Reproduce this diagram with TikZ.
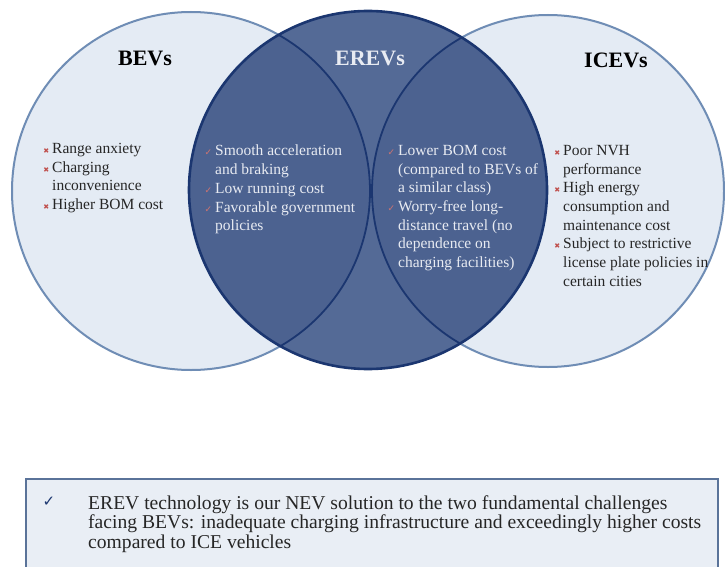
\documentclass[tikz,border=0pt]{standalone}
\usepackage{fontspec}
\setmainfont{Liberation Serif}
\newfontfamily\symfont{DejaVu Sans}

\definecolor{ringblue}{HTML}{6F8DB5}
\definecolor{lightfill}{HTML}{E4EBF4}
\definecolor{evfill}{HTML}{546A96}
\definecolor{lensfill}{HTML}{4C6290}
\definecolor{navy}{HTML}{1B3670}
\definecolor{darktext}{HTML}{262626}
\definecolor{lenstext}{HTML}{E8EBF2}
\definecolor{markred}{HTML}{C0504D}
\definecolor{notefill}{HTML}{E9EEF5}
\definecolor{noteline}{HTML}{5A7399}

\newcommand{\crossmark}{\llap{\textcolor{markred}{\fontsize{7}{7}\selectfont\symfont ✖}\hspace{3pt}}}
\newcommand{\tickmark}{\llap{\textcolor{markred!80!white}{\fontsize{9}{9}\selectfont\symfont ✓}\hspace{3pt}}}

\begin{document}
\begin{tikzpicture}[x=1pt,y=-1pt,
  ring/.style={line width=2pt,draw=ringblue,fill=lightfill},
  evring/.style={line width=2.6pt,draw=navy},
  lensline/.style={line width=1.8pt,draw=navy},
  heading/.style={font=\fontsize{22}{22}\selectfont\bfseries,inner sep=0pt,text=black},
  points/.style={font=\fontsize{15.5}{18.7}\selectfont,align=left,inner sep=0pt,anchor=north west,text=darktext},
  lenspoints/.style={points,text=lenstext},
  notebox/.style={line width=1.8pt,draw=noteline,fill=notefill},
  notetext/.style={font=\fontsize{19.6}{19.5}\selectfont,align=left,inner sep=0pt,anchor=north west,text=darktext}]

  \useasboundingbox (0,0) rectangle (725,567);
  \clip (0,0) rectangle (725,567);
  \fill[white] (0,0) rectangle (725,567);

  % Centres of the three circles
  \coordinate (bevc) at (191,191);
  \coordinate (erevc) at (368,190);
  \coordinate (icevc) at (548,191);

  % Outer circles first, the EREV circle on top
  \path[ring] (bevc) circle (179pt);
  \path[ring] (icevc) circle (176pt);
  \fill[evfill] (erevc) circle (179pt);
  \begin{scope}
    \clip (erevc) circle (179pt);
    \fill[lensfill] (bevc) circle (179pt);
    \fill[lensfill] (icevc) circle (176pt);
    \draw[lensline] (bevc) circle (179pt);
    \draw[lensline] (icevc) circle (176pt);
  \end{scope}
  \draw[evring] (erevc) circle (179pt);

  % Headings
  \node[heading] (bevtitle) at (145,58) {BEVs};
  \node[heading,text=lenstext] (erevtitle) at (370,58) {EREVs};
  \node[heading] (icevtitle) at (616,60) {ICEVs};

  % Points in each region
  \node[points] (bevlist) at (52,143)
    {\crossmark Range anxiety\\\crossmark Charging\\inconvenience\\\crossmark Higher BOM cost};
  \node[lenspoints] (leftlens) at (215,145)
    {\tickmark Smooth acceleration\\and braking\\\tickmark Low running cost\\\tickmark Favorable government\\policies};
  \node[lenspoints] (rightlens) at (398,145)
    {\tickmark Lower BOM cost\\(compared to BEVs of\\a similar class)\\\tickmark Worry-free long-\\distance travel (no\\dependence on\\charging facilities)};
  \node[points] (icevlist) at (563,145)
    {\crossmark Poor NVH\\performance\\\crossmark High energy\\consumption and\\maintenance cost\\\crossmark Subject to restrictive\\license plate policies in\\certain cities};

  % Conclusion box
  \draw[notebox] (26,479) rectangle (718,600);
  \node[text=navy,font=\fontsize{15}{15}\selectfont\symfont,inner sep=0pt] (tick) at (49,502) {✓};
  \node[notetext] (conclusion) at (88,495)
    {EREV technology is our NEV solution to the two fundamental challenges\\facing BEVs: inadequate charging infrastructure and exceedingly higher costs\\compared to ICE vehicles};
\end{tikzpicture}
\end{document}
